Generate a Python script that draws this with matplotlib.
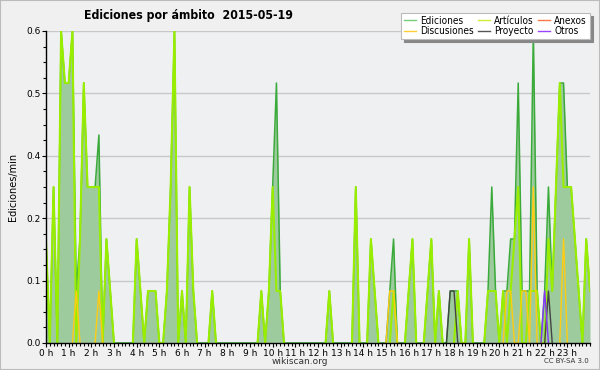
import numpy as np
import matplotlib.pyplot as plt
from matplotlib.ticker import MultipleLocator, FixedLocator

# edits per 10-minute slot (value / 10 = edits per minute)
ediciones = [2, 0, 3, 0, 6, 5, 5, 6, 1, 2, 5, 3, 3, 3, 4, 0, 2, 1, 0, 0,
             0, 0, 0, 0, 2, 1, 0, 1, 1, 1, 0, 0, 1, 3, 6, 0, 1, 0, 3, 1,
             0, 0, 0, 0, 1, 0, 0, 0, 0, 0, 0, 0, 0, 0, 0, 0, 0, 1, 0, 1,
             3, 5, 1, 0, 0, 0, 0, 0, 0, 0, 0, 0, 0, 0, 0, 1, 0, 0, 0, 0,
             0, 0, 3, 0, 0, 0, 2, 1, 0, 0, 0, 1, 2, 0, 0, 0, 1, 2, 0, 0,
             0, 1, 2, 0, 1, 0, 0, 1, 1, 1, 0, 0, 2, 0, 0, 0, 0, 1, 3, 1,
             0, 1, 1, 2, 2, 5, 1, 1, 1, 6, 1, 0, 1, 3, 1, 3, 5, 5, 3, 3,
             2, 1, 0, 2, 1]
articulos = [2, 0, 3, 0, 6, 5, 5, 6, 0, 2, 5, 3, 3, 3, 3, 0, 2, 1, 0, 0,
             0, 0, 0, 0, 2, 1, 0, 1, 1, 1, 0, 0, 1, 3, 6, 0, 1, 0, 3, 1,
             0, 0, 0, 0, 1, 0, 0, 0, 0, 0, 0, 0, 0, 0, 0, 0, 0, 1, 0, 1,
             3, 1, 1, 0, 0, 0, 0, 0, 0, 0, 0, 0, 0, 0, 0, 1, 0, 0, 0, 0,
             0, 0, 3, 0, 0, 0, 2, 1, 0, 0, 0, 0, 1, 0, 0, 0, 1, 2, 0, 0,
             0, 1, 2, 0, 1, 0, 0, 0, 0, 1, 0, 0, 2, 0, 0, 0, 0, 1, 1, 1,
             0, 1, 0, 1, 2, 3, 0, 0, 1, 1, 1, 0, 0, 2, 1, 3, 5, 3, 3, 3,
             2, 1, 0, 2, 1]
discusiones = [0] * 145
for i, v in [(8, 1), (14, 1), (91, 1), (92, 1), (122, 1), (123, 1),
             (126, 1), (127, 1), (129, 3), (137, 2)]:
    discusiones[i] = v
proyecto = [0] * 145
for i, v in [(107, 1), (108, 1), (133, 1)]:
    proyecto[i] = v
otros = [0] * 145
otros[132] = 1
anexos = [0] * 145

hour_labels = [f"{h} h" for h in range(24)]
y_ticks = [0.0, 0.12, 0.24, 0.36, 0.48, 0.6]
y_labels = ["0.0", "0.1", "0.2", "0.4", "0.5", "0.6"]

bg = "#f0f0f0"
fig = plt.figure(figsize=(6, 3.7), dpi=100, facecolor=bg)
ax = fig.add_axes([46 / 600, 27 / 370, 544 / 600, 312 / 370])
ax.set_facecolor("#eff0f2")

x = np.arange(len(ediciones)) / 6
ed = np.array(ediciones) / 10

def masked(vals):
    a = np.array(vals, dtype=float) / 10
    nz = a > 0
    keep = nz.copy()
    keep[1:] |= nz[:-1]
    keep[:-1] |= nz[1:]
    return np.where(keep, a, np.nan)

ax.fill_between(x, ed, color="#9ecb9e", lw=0, zorder=2)
ax.plot(x, ed, color="#3aaa3a", lw=1.1, zorder=3)
ax.plot(x, masked(articulos), color="#99ee00", lw=1.5, zorder=4)
ax.plot(x, masked(anexos), color="#ff7744", lw=1, zorder=5)
ax.plot(x, masked(discusiones), color="#ffcc11", lw=1, zorder=5)
ax.plot(x, masked(proyecto), color="#444444", lw=1, zorder=6)
ax.plot(x, masked(otros), color="#8833ff", lw=1, zorder=6)

ax.set_xlim(0, 24)
ax.set_ylim(0, 0.6)
ax.xaxis.set_major_locator(FixedLocator(range(24)))
ax.set_xticklabels(hour_labels)
ax.xaxis.set_minor_locator(MultipleLocator(1 / 6))
ax.yaxis.set_major_locator(FixedLocator(y_ticks))
ax.set_yticklabels(y_labels)
ax.yaxis.set_minor_locator(MultipleLocator(0.03))
ax.tick_params(axis="both", which="major", labelsize=6.5, length=3, width=0.8, pad=1)
ax.tick_params(axis="both", which="minor", length=2.5, width=0.8)
ax.tick_params(axis="y", which="minor", length=2)
ax.grid(axis="y", color="#c8c8c8", lw=1, zorder=1)
ax.set_axisbelow(True)
for s in ["top", "right"]:
    ax.spines[s].set_visible(False)
for s in ["left", "bottom"]:
    ax.spines[s].set_linewidth(1)
    ax.spines[s].set_zorder(7)

ax.set_ylabel("Ediciones/min", fontsize=7, labelpad=6)

fig.text(0.314, 0.957, "Ediciones por ámbito  2015-05-19", ha="center",
         va="center", fontsize=8.8, fontweight="bold", fontstretch="condensed")
fig.text(0.5, 0.024, "wikiscan.org", ha="center", va="center", fontsize=6.5,
         color="#333333")
fig.text(0.982, 0.024, "CC BY-SA 3.0", ha="right", va="center", fontsize=5,
         color="#333333")

handles = [
    plt.Line2D([], [], color="#77cc77", lw=1),
    plt.Line2D([], [], color="#ffcc33", lw=1),
    plt.Line2D([], [], color="#ccee33", lw=1),
    plt.Line2D([], [], color="#555555", lw=1),
    plt.Line2D([], [], color="#ff7744", lw=1),
    plt.Line2D([], [], color="#9944ff", lw=1),
]
labels = ["Ediciones", "Discusiones", "Artículos", "Proyecto", "Anexos", "Otros"]
leg = fig.legend(handles, labels, ncol=3, loc="upper right",
                 bbox_to_anchor=(0.983, 0.965),
                 prop={"size": 7.2, "stretch": "condensed"}, frameon=True,
                 fancybox=False, shadow={"color": "#888888", "alpha": 1},
                 handlelength=1.2, handletextpad=0.4, columnspacing=0.45,
                 labelspacing=0.05, borderpad=0.3, borderaxespad=0)
leg.get_frame().set_edgecolor("#bbbbbb")
leg.get_frame().set_linewidth(0.8)

fig.patches.append(plt.Rectangle((0, 0), 1, 1, transform=fig.transFigure,
                                 fill=False, edgecolor="#bbbbbb", lw=1.5))

fig.savefig("out.png", dpi=100, facecolor=bg)
